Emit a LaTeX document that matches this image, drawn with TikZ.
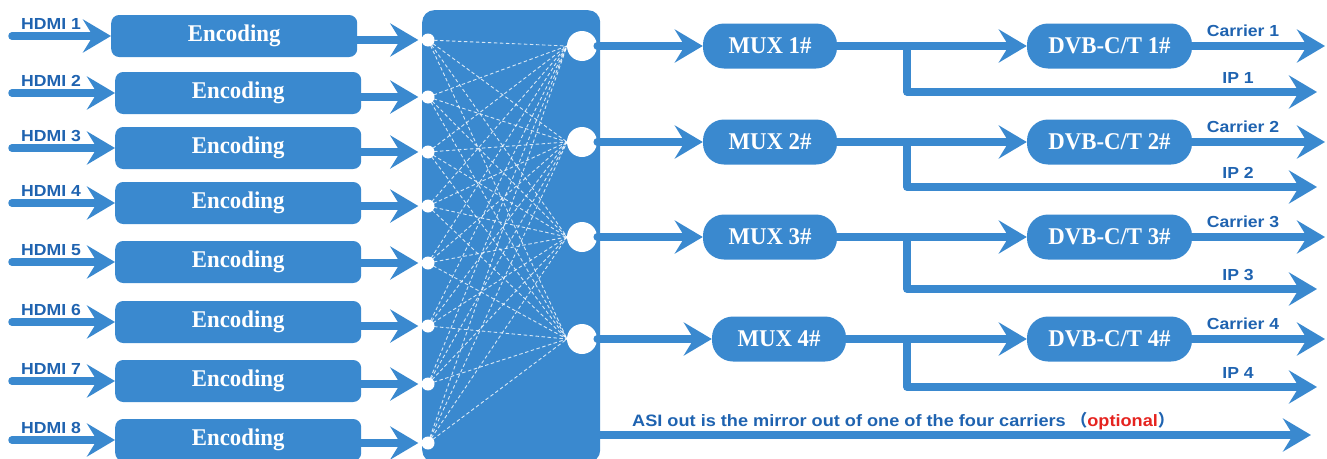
\documentclass[tikz,border=0pt]{standalone}
\usepackage{fontspec}
\setmainfont{Liberation Serif}
\newfontfamily\boxfont[FakeStretch=0.95]{Liberation Serif}
\newfontfamily\lblfont[FakeStretch=1.1]{Liberation Sans}
\newfontfamily\cjkfont{Noto Sans CJK SC}
\usetikzlibrary{arrows.meta}
\definecolor{bl}{HTML}{3A89CF}
\definecolor{dbl}{HTML}{1F63B0}
\definecolor{rd}{HTML}{E5231F}
\tikzset{
  enc/.style={fill=bl, rounded corners=8pt, minimum width=246pt, minimum height=42pt, inner sep=0pt,
    text=white, font=\boxfont\bfseries\fontsize{24}{24}\selectfont},
  pill/.style={fill=bl, rounded corners=21pt, minimum height=45pt, inner sep=0pt,
    text=white, font=\boxfont\bfseries\fontsize{24}{24}\selectfont},
  arr/.style={draw=bl, line width=7.5pt, line cap=round, line join=round,
    -{Stealth[length=28pt,width=33pt,inset=10pt]}},
  lbl/.style={text=dbl, inner sep=0pt, font=\lblfont\bfseries\fontsize{16}{16}\selectfont},
  sdot/.style={circle, fill=white, minimum size=13pt, inner sep=0pt},
  bdot/.style={circle, fill=white, minimum size=30pt, inner sep=0pt},
  mesh/.style={draw=white, line width=0.9pt, dash pattern=on 3.5pt off 2.5pt, opacity=0.8},
}
\begin{document}
\begin{tikzpicture}[x=1pt,y=-1pt]
\useasboundingbox (0,0) rectangle (1327,458);
% matrix block
\node[fill=bl, rounded corners=12pt, minimum width=178pt, minimum height=452pt, inner sep=0pt, anchor=north west] (mx) at (422,10) {};
% small input dots and big output dots (positions)
\foreach \i/\y in {1/40,2/97,3/152,4/206,5/263,6/326,7/384,8/443}
  \coordinate (sc\i) at (428,\y);
\foreach \j/\y in {1/46,2/142,3/237,4/339}
  \coordinate (bc\j) at (582,\y);
% mesh of dashed lines
\foreach \i in {1,...,8}
  \foreach \j in {1,...,4}
    \draw[mesh] (sc\i) -- ([xshift=-15pt]bc\j);
\foreach \i in {1,...,8}
  \node[sdot] (s\i) at (sc\i) {};
\foreach \j in {1,...,4}
  \node[bdot] (b\j) at (bc\j) {};
% encoding rows
\foreach \i/\y/\xl in {1/36/111,2/93/115,3/148/115,4/203/115,5/262/115,6/322/115,7/381/115,8/440/115}{
  \node[enc, anchor=west] (e\i) at (\xl,\y) {Encoding};
  \coordinate (h\i) at (12,\y);
  \draw[arr] (h\i) -- (e\i.west);
  \node[lbl] (hl\i) at (51,\y-12) {HDMI \i};
  \draw[arr] (e\i.east |- s\i) -- ([xshift=-3pt]s\i.west);
}
% MUX / DVB rows
\foreach \j/\y/\mx/\ipy in {1/46/770/92,2/142/770/187,3/237/770/289,4/339/779/387}{
  \node[pill, minimum width=134pt] (m\j) at (\mx,\y) {MUX \j\#};
  \node[pill, minimum width=165pt] (d\j) at (1109.5,\y) {DVB-C/T \j\#};
  \draw[arr] (b\j.east) -- (m\j.west);
  \draw[arr] (m\j.east) -- (d\j.west);
  \coordinate (br\j) at (907,\y);
  \coordinate (ip\j) at (1317,\ipy);
  \draw[arr] (br\j) -- (br\j |- ip\j) -- (ip\j);
  \coordinate (ca\j) at (1325,\y);
  \draw[arr] (d\j.east) -- (ca\j);
  \node[lbl] (cl\j) at (1243,\y-15) {Carrier \j};
  \node[lbl] (il\j) at (1238,\ipy-14) {IP \j};
}
% ASI out
\coordinate (asi0) at (598,435);
\coordinate (asi1) at (1311,435);
\draw[arr] (asi0) -- (asi1);
\node[lbl, anchor=west, font=\lblfont\bfseries\fontsize{16.5}{16.5}\selectfont] (asil) at (632,421)
  {ASI out is the mirror out of one of the four carriers {\cjkfont\bfseries （}\textcolor{rd}{optional}{\cjkfont\bfseries ）}};
\end{tikzpicture}
\end{document}
